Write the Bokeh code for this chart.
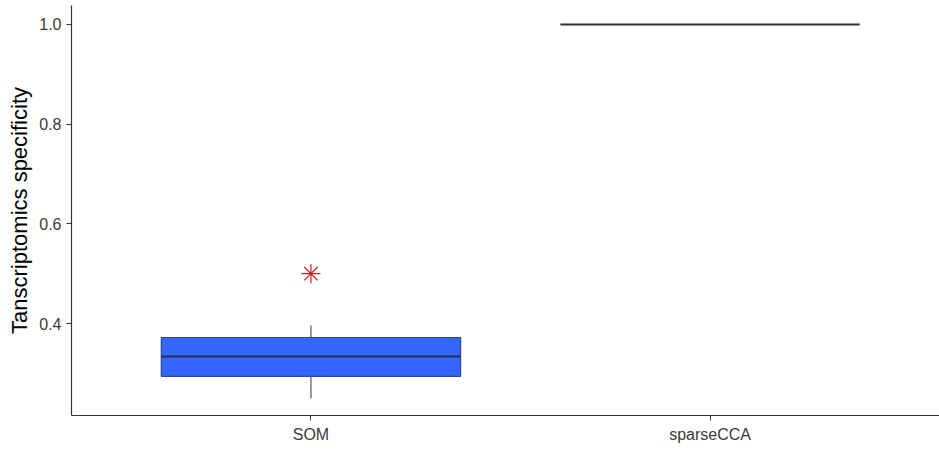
from bokeh.plotting import figure
from bokeh.models import Range1d, FixedTicker
from bokeh.embed import file_html
from bokeh.resources import INLINE

# Boxplot summary per method
methods = ["SOM", "sparseCCA"]
positions = [1, 2]
lower_whisker = [0.25, 1.0]
q1 = [0.294, 1.0]
median = [0.334, 1.0]
q3 = [0.372, 1.0]
upper_whisker = [0.396, 1.0]
outlier_pos = [1]
outlier_val = [0.5]
y_ticks = [0.4, 0.6, 0.8, 1.0]

FONT = "Liberation Sans"
box_w = 0.75

p = figure(width=939, height=451, output_backend="svg", toolbar_location=None,
           x_range=Range1d(0.4, 2.575), y_range=Range1d(0.2155, 1.038),
           min_border_left=71, min_border_right=0, min_border_top=5, min_border_bottom=36)
p.outline_line_color = None
p.xgrid.visible = False
p.ygrid.visible = False
p.background_fill_color = "white"
p.border_fill_color = "white"

# whiskers
p.segment(x0=positions, y0=lower_whisker, x1=positions, y1=q1, line_color="#555555", line_width=1.2)
p.segment(x0=positions, y0=q3, x1=positions, y1=upper_whisker, line_color="#555555", line_width=1.2)

# boxes (sparseCCA collapses to a single line at 1.0)
heights = [b - a for a, b in zip(q1, q3)]
centers = [(a + b) / 2 for a, b in zip(q1, q3)]
p.rect(x=positions[:1], y=centers[:1], width=box_w, height=heights[:1],
       fill_color="#3366FF", line_color="#2E4A8C", line_width=1.2)

# medians
median_colors = ["#232B4F", "#333333"]
p.segment(x0=[x - box_w / 2 for x in positions], y0=median,
          x1=[x + box_w / 2 for x in positions], y1=median,
          line_color=median_colors, line_width=2)

# outliers
p.scatter(x=outlier_pos, y=outlier_val, marker="asterisk", size=19,
          line_color="#CC2020", line_width=1.2)

# axes
p.xaxis.ticker = FixedTicker(ticks=positions)
p.xaxis.major_label_overrides = {pos: name for pos, name in zip(positions, methods)}
p.yaxis.ticker = FixedTicker(ticks=y_ticks)
p.yaxis.major_label_overrides = {t: f"{t:.1f}" for t in y_ticks}
p.yaxis.axis_label = "Tanscriptomics specificity"
for ax in (p.xaxis, p.yaxis):
    ax.axis_line_color = "#333333"
    ax.axis_line_width = 1.2
    ax.major_tick_line_color = "#333333"
    ax.major_tick_in = 0
    ax.major_tick_out = 5
    ax.minor_tick_line_color = None
    ax.major_label_text_font = FONT
    ax.major_label_text_font_size = "16px"
    ax.major_label_text_color = "#3a3a3a"
p.xaxis.major_label_standoff = 5
p.yaxis.major_label_standoff = 5
p.yaxis.axis_label_text_font = FONT
p.yaxis.axis_label_text_font_size = "22px"
p.yaxis.axis_label_text_font_style = "normal"
p.yaxis.axis_label_text_color = "black"
p.yaxis.axis_label_standoff = 4

open("out.html", "w").write(file_html(p, INLINE))
